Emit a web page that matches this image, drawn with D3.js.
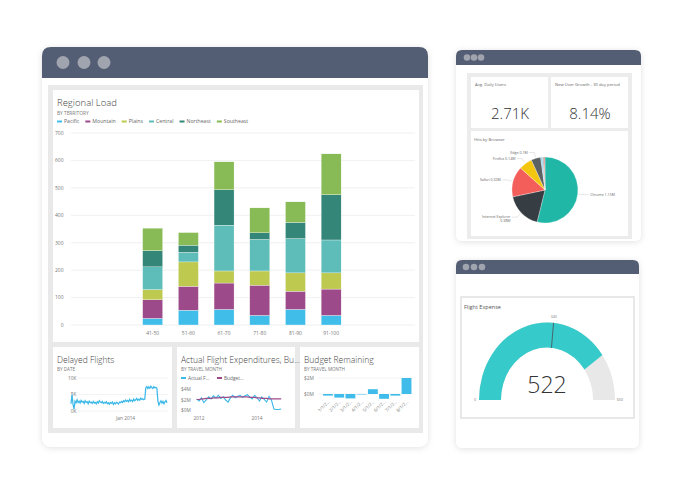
<!DOCTYPE html>
<html>
<head>
<meta charset="utf-8">
<script src="https://cdn.jsdelivr.net/npm/d3@7"></script>
<style>
  body { margin: 0; background: #ffffff; }
  text { font-family: "Open Sans", "Noto Sans", sans-serif; }
</style>
</head>
<body>
<div id="chart"></div>
<script>
// ---- data ----
const ageGroups = ["41-50", "51-60", "61-70", "71-80", "81-90", "91-100"];
const territories = ["Pacific", "Mountain", "Plains", "Central", "Northeast", "Southeast"];
const territoryColors = ["#41bde9", "#9d4a8b", "#bdc94f", "#5fbdb9", "#348678", "#88bb55"];
const pacific = [24, 54, 57, 35, 57, 35];
const mountain = [68, 87, 96, 110, 66, 96];
const plains = [37, 89, 44, 52, 67, 59];
const central = [83, 35, 167, 115, 125, 120];
const northeast = [59, 26, 129, 24, 59, 165];
const southeast = [82, 46, 102, 91, 75, 149];
const loadTicks = [0, 100, 200, 300, 400, 500, 600, 700];

// delayed flights (thousands), one point every 3 days
const delayedK = [
  2.2, 5.0, 2.0, 0.6, 3.0, 2.5, 3.4, 2.6, 3.0, 2.4, 3.2, 2.7, 2.9, 2.3, 3.1, 2.6, 2.8, 2.2, 3.0, 2.5,
  2.7, 2.3, 2.9, 2.4, 2.6, 2.2, 2.8, 2.4, 3.1, 2.7, 2.5, 2.9, 2.3, 2.6, 2.4, 2.8, 2.2, 2.5, 2.1, 2.6,
  2.3, 2.7, 2.0, 2.5, 2.2, 2.6, 2.4, 2.1, 2.7, 2.5, 2.9, 2.6, 3.1, 2.8, 3.3, 2.9, 3.2, 2.8, 3.5, 3.0,
  3.3, 2.9, 3.6, 3.1, 3.4, 3.8, 3.2, 3.6, 3.3, 3.9, 3.5, 3.7, 3.4, 3.6, 7.0, 7.4, 6.8, 7.3, 6.9, 7.5,
  7.1, 6.8, 7.4, 7.0, 7.2, 6.9, 3.0, 1.8, 2.6, 3.1, 2.4, 2.9, 2.2, 2.8, 3.2, 2.5
];
const delayedStart = new Date(2013, 6, 23);
const delayedTicks = [0, 5, 10];

// expenditures ($M), monthly from Dec 2011
const expActual = [
  2.2, 1.8, 2.4, 1.5, 2.0, 2.6, 2.2, 2.8, 2.4, 2.9, 2.3, 2.6,
  2.0, 1.6, 2.5, 2.9, 2.4, 2.7, 2.9, 2.5, 2.8, 3.0, 2.6, 2.2,
  2.9, 2.4, 1.8, 2.6, 2.1, 1.6, 2.7, 2.0, 0.3, 0.2, 0.2, 0.3
];
const expBudget = [
  2.1, 2.1, 2.2, 2.2, 2.3, 2.3, 2.3, 2.4, 2.4, 2.4, 2.5, 2.5,
  2.5, 2.5, 2.6, 2.6, 2.6, 2.6, 2.6, 2.6, 2.6, 2.6, 2.5, 2.5,
  2.5, 2.4, 2.4, 2.3, 2.3, 2.3, 2.2, 2.2, 2.2, 2.2, 2.2, 2.2
];
const expStart = new Date(2011, 11, 1);
const expTicks = [0, 2, 4];

// budget remaining ($M)
const budgetMonths = ["1/1/2...", "2/1/2...", "3/1/2...", "4/1/2...", "5/1/2...", "6/1/2...", "7/1/2...", "8/1/2..."];
const budgetRemaining = [-0.2, -0.45, -0.55, -0.06, 0.6, -0.6, -0.2, 2.0];

// KPI cards
const kpiTitles = ["Avg. Daily Users", "New User Growth - 30 day period"];
const kpiValues = ["2.71K", "8.14%"];

// hits by browser (M hits)
const browsers = ["Chrome", "Internet Explorer", "Safari", "Firefox", "Edge", "Opera", "Other", "Unknown"];
const browserHits = [1.15, 0.38, 0.32, 0.14, 0.10, 0.02, 0.015, 0.01];
const browserLabels = ["1.15M", "0.38M", "0.32M", "0.14M", "0.1M", "", "", ""];
const browserColors = ["#20b7a6", "#363d43", "#f45e5a", "#f3c60f", "#5c6264", "#8fd3ea", "#a7a9ab", "#e46a6a"];

// gauge
const gaugeMin = 0;
const gaugeMax = 650;
const gaugeValue = 522;
const gaugeTarget = 345;

// ---- page ----
const W = 688, H = 500;
const svg = d3.select("#chart").append("svg")
  .attr("width", W).attr("height", H);

const defs = svg.append("defs");
const f = defs.append("filter").attr("id", "shadow")
  .attr("x", "-10%").attr("y", "-10%").attr("width", "120%").attr("height", "120%");
f.append("feDropShadow").attr("dx", 0).attr("dy", 1).attr("stdDeviation", 3)
  .attr("flood-color", "#000").attr("flood-opacity", 0.12);

// window frame helper
function windowFrame(x, y, w, h, barH, r, dotR, dotX) {
  svg.append("rect").attr("x", x).attr("y", y).attr("width", w).attr("height", h)
    .attr("rx", r).attr("fill", "#fff").attr("filter", "url(#shadow)");
  const p = `M${x},${y + barH} V${y + r} Q${x},${y} ${x + r},${y} H${x + w - r} Q${x + w},${y} ${x + w},${y + r} V${y + barH} Z`;
  svg.append("path").attr("d", p).attr("fill", "#535d73");
  dotX.forEach(dx => {
    svg.append("circle").attr("cx", x + dx).attr("cy", y + barH / 2)
      .attr("r", dotR).attr("fill", "#a0a4ae");
  });
}

function txt(g, x, y, s, size, fill, anchor, weight) {
  return g.append("text").attr("x", x).attr("y", y).text(s)
    .attr("font-size", size).attr("fill", fill)
    .attr("text-anchor", anchor || "start")
    .attr("font-weight", weight || 400);
}

// ===== main window =====
windowFrame(42, 47, 386, 400, 31, 9, 6.5, [21, 42, 62]);
svg.append("rect").attr("x", 48).attr("y", 85).attr("width", 375).attr("height", 348).attr("fill", "#e9e9e9");
svg.append("rect").attr("x", 53).attr("y", 90).attr("width", 366).attr("height", 252).attr("fill", "#fff");
[[53, 172], [177, 295], [300, 419]].forEach(([a, b]) => {
  svg.append("rect").attr("x", a).attr("y", 347).attr("width", b - a).attr("height", 81).attr("fill", "#fff");
});

// --- Regional Load ---
const main = svg.append("g");
txt(main, 57, 106, "Regional Load", 9.5, "#444", "start", 300);
txt(main, 57, 115, "BY TERRITORY", 4.8, "#777");

const legend = main.append("g").attr("transform", "translate(57,123)");
let lx = 0;
territories.forEach((t, i) => {
  legend.append("rect").attr("x", lx).attr("y", -2.5).attr("width", 5).attr("height", 2)
    .attr("fill", territoryColors[i]);
  const tt = txt(legend, lx + 7, 0, t, 5.2, "#666");
  lx += 7 + tt.node().getComputedTextLength() + 6;
});

const yLoad = d3.scaleLinear().domain([0, 700]).range([325, 133]);
const xLoad = d3.scaleBand().domain(ageGroups).range([134.8, 349])
  .paddingInner(0.44).paddingOuter(0.22);

const grid = main.append("g");
loadTicks.forEach(t => {
  grid.append("line").attr("x1", 71).attr("x2", 415)
    .attr("y1", yLoad(t)).attr("y2", yLoad(t))
    .attr("stroke", "#ececec").attr("stroke-width", 0.8);
  txt(grid, 63.5, yLoad(t) + 1.8, t, 5, "#777", "end");
});

const loadRows = ageGroups.map((a, i) => ({
  group: a,
  Pacific: pacific[i], Mountain: mountain[i], Plains: plains[i],
  Central: central[i], Northeast: northeast[i], Southeast: southeast[i]
}));
const stacked = d3.stack().keys(territories)(loadRows);
main.append("g").selectAll("g").data(stacked).join("g")
  .attr("fill", (d, i) => territoryColors[i])
  .selectAll("rect").data(d => d).join("rect")
  .attr("x", d => xLoad(d.data.group))
  .attr("width", xLoad.bandwidth())
  .attr("y", d => yLoad(d[1]))
  .attr("height", d => yLoad(d[0]) - yLoad(d[1]))
  .attr("stroke", "#fff").attr("stroke-width", 0.3);

ageGroups.forEach(a => {
  txt(main, xLoad(a) + xLoad.bandwidth() / 2, 335, a, 5, "#777", "middle");
});

// --- Delayed Flights ---
const p1 = svg.append("g");
txt(p1, 57, 363, "Delayed Flights", 8.5, "#444", "start", 300);
txt(p1, 57, 371, "BY DATE", 4.6, "#777");
const delayedDates = delayedK.map((v, i) => d3.timeDay.offset(delayedStart, i * 3));
const xDel = d3.scaleTime().domain(d3.extent(delayedDates)).range([71, 167]);
const yDel = d3.scaleLinear().domain([0, 10]).range([411, 378]);
delayedTicks.forEach(t => {
  p1.append("line").attr("x1", 78).attr("x2", 168).attr("y1", yDel(t)).attr("y2", yDel(t))
    .attr("stroke", "#eeeeee").attr("stroke-width", 0.7);
  txt(p1, 76.5, yDel(t) + 1.7, t + "K", 4.8, "#777", "end");
});
p1.append("path").datum(delayedK)
  .attr("fill", "none").attr("stroke", "#3db9e8").attr("stroke-width", 1.25)
  .attr("d", d3.line().x((d, i) => xDel(delayedDates[i])).y(d => yDel(d)));
txt(p1, xDel(new Date(2014, 0, 1)), 420, "Jan 2014", 4.8, "#777", "middle");

// --- Actual Flight Expenditures ---
const p2 = svg.append("g");
txt(p2, 181, 363, "Actual Flight Expenditures, Bu...", 8.5, "#444", "start", 300);
txt(p2, 181, 371, "BY TRAVEL MONTH", 4.6, "#777");
p2.append("rect").attr("x", 181).attr("y", 377).attr("width", 5).attr("height", 2).attr("fill", "#3db9e8");
txt(p2, 188, 379.5, "Actual F...", 4.8, "#666");
p2.append("rect").attr("x", 217).attr("y", 377).attr("width", 5).attr("height", 2).attr("fill", "#9d4a8b");
txt(p2, 224, 379.5, "Budget...", 4.8, "#666");
const expDates = expActual.map((v, i) => d3.timeMonth.offset(expStart, i));
const xExp = d3.scaleTime().domain(d3.extent(expDates)).range([196.6, 281.2]);
const yExp = d3.scaleLinear().domain([0, 4]).range([410.5, 389.5]);
expTicks.forEach(t => {
  txt(p2, 181, yExp(t) + 1.7, "$" + t + "M", 4.8, "#777");
});
p2.append("path").datum(expActual)
  .attr("fill", "none").attr("stroke", "#3db9e8").attr("stroke-width", 1.1)
  .attr("d", d3.line().x((d, i) => xExp(expDates[i])).y(d => yExp(d)));
p2.append("path").datum(expBudget)
  .attr("fill", "none").attr("stroke", "#9d4a8b").attr("stroke-width", 1.2)
  .attr("d", d3.line().x((d, i) => xExp(expDates[i])).y(d => yExp(d)));
[new Date(2012, 0, 1), new Date(2014, 0, 1)].forEach(d => {
  txt(p2, xExp(d), 420, d.getFullYear(), 4.8, "#777", "middle");
});

// --- Budget Remaining ---
const p3 = svg.append("g");
txt(p3, 304, 363, "Budget Remaining", 8.5, "#444", "start", 300);
txt(p3, 304, 371, "BY TRAVEL MONTH", 4.6, "#777");
const xBud = d3.scaleBand().domain(budgetMonths).range([322.5, 412]).paddingInner(0.12).paddingOuter(0.05);
const yBud = d3.scaleLinear().domain([0, 2]).range([394, 378]);
[0, 2].forEach(t => {
  p3.append("line").attr("x1", 318).attr("x2", 412).attr("y1", yBud(t)).attr("y2", yBud(t))
    .attr("stroke", "#eeeeee").attr("stroke-width", 0.7);
  txt(p3, 304, yBud(t) + 1.7, "$" + t + "M", 4.8, "#777");
});
p3.selectAll(".bud").data(budgetRemaining).join("rect")
  .attr("x", (d, i) => xBud(budgetMonths[i]))
  .attr("width", xBud.bandwidth())
  .attr("y", d => yBud(Math.max(0, d)))
  .attr("height", d => Math.abs(yBud(d) - yBud(0)))
  .attr("fill", "#3fbce9");
budgetMonths.forEach(m => {
  const cx = xBud(m) + xBud.bandwidth() / 2 + 2;
  p3.append("text").attr("transform", `translate(${cx},402) rotate(-45)`)
    .attr("text-anchor", "end").attr("font-size", 4.5).attr("fill", "#777").text(m);
});

// ===== top right window =====
windowFrame(456, 50, 185, 191, 15, 6, 3.3, [11, 18, 25]);
svg.append("rect").attr("x", 467).attr("y", 73).attr("width", 165).attr("height", 166).attr("fill", "#ececec");
const kpiX = [471, 551];
kpiTitles.forEach((t, i) => {
  svg.append("rect").attr("x", kpiX[i]).attr("y", 77).attr("width", 77).attr("height", 51).attr("fill", "#fff");
  txt(svg, kpiX[i] + 4, 86, t, 4.2, "#666");
  txt(svg, kpiX[i] + 39, 119, kpiValues[i], 15, "#333", "middle", 300);
});
svg.append("rect").attr("x", 471).attr("y", 131).attr("width", 157).attr("height", 105).attr("fill", "#fff");
txt(svg, 474, 141, "Hits by Browser", 4.2, "#666");

const pieG = svg.append("g").attr("transform", "translate(545,190)");
const pieR = 33;
const pie = d3.pie().sort(null).value(d => d)(browserHits);
const arc = d3.arc().innerRadius(0).outerRadius(pieR);
pieG.selectAll("path").data(pie).join("path")
  .attr("d", arc).attr("fill", (d, i) => browserColors[i])
  .attr("stroke", "#fff").attr("stroke-width", 0.3);
pie.forEach((d, i) => {
  if (!browserLabels[i]) return;
  const mid = (d.startAngle + d.endAngle) / 2;
  const right = Math.sin(mid) > 0;
  const p0 = [Math.sin(mid) * (pieR + 1), -Math.cos(mid) * (pieR + 1)];
  const p1b = [Math.sin(mid) * (pieR + 6), -Math.cos(mid) * (pieR + 6)];
  const p2b = [p1b[0] + (right ? 5 : -5), p1b[1]];
  pieG.append("polyline").attr("points", [p0, p1b, p2b].map(p => p.join(",")).join(" "))
    .attr("fill", "none").attr("stroke", "#aaa").attr("stroke-width", 0.3);
  const tx = p2b[0] + (right ? 1.5 : -1.5);
  if (browsers[i] === "Internet Explorer") {
    txt(pieG, tx, p2b[1] + 1, browsers[i], 3.6, "#666", "end");
    txt(pieG, tx, p2b[1] + 5, browserLabels[i], 3.6, "#666", "end");
  } else {
    txt(pieG, tx, p2b[1] + 1.2, browsers[i] + " " + browserLabels[i], 3.6, "#666", right ? "start" : "end");
  }
});

// ===== bottom right window =====
windowFrame(456, 260, 183, 188, 14, 6, 3.3, [10, 18, 26]);
svg.append("rect").attr("x", 461).attr("y", 297).attr("width", 173).attr("height", 121)
  .attr("fill", "#fff").attr("stroke", "#e3e3e3").attr("stroke-width", 1.6);
txt(svg, 464, 309, "Flight Expense", 5.5, "#555");

const gx = 547, gy = 400;
const gOuter = 68, gInner = 46;
const gScale = d3.scaleLinear().domain([gaugeMin, gaugeMax]).range([-Math.PI / 2, Math.PI / 2]);
const gauge = svg.append("g").attr("transform", `translate(${gx},${gy}) scale(1,1.14)`);
const gArc = d3.arc().innerRadius(gInner).outerRadius(gOuter);
gauge.append("path").attr("d", gArc({ startAngle: gScale(gaugeMin), endAngle: gScale(gaugeMax) })).attr("fill", "#e8e8e8");
gauge.append("path").attr("d", gArc({ startAngle: gScale(gaugeMin), endAngle: gScale(gaugeValue) })).attr("fill", "#36caca");
const ta = gScale(gaugeTarget);
gauge.append("line")
  .attr("x1", Math.sin(ta) * gInner).attr("y1", -Math.cos(ta) * gInner)
  .attr("x2", Math.sin(ta) * gOuter).attr("y2", -Math.cos(ta) * gOuter)
  .attr("stroke", "#4a5560").attr("stroke-width", 0.8);
txt(svg, gx + Math.sin(ta) * (gOuter + 4), gy - Math.cos(ta) * (gOuter + 4) * 1.14, gaugeTarget, 3.6, "#777", "middle");
txt(svg, gx - gOuter - 4, gy + 1, gaugeMin, 3.6, "#777", "middle");
txt(svg, gx + gOuter + 5, gy + 1, gaugeMax, 3.6, "#777", "middle");
txt(svg, gx, 393, gaugeValue, 23, "#333", "middle", 300);
</script>
</body>
</html>
